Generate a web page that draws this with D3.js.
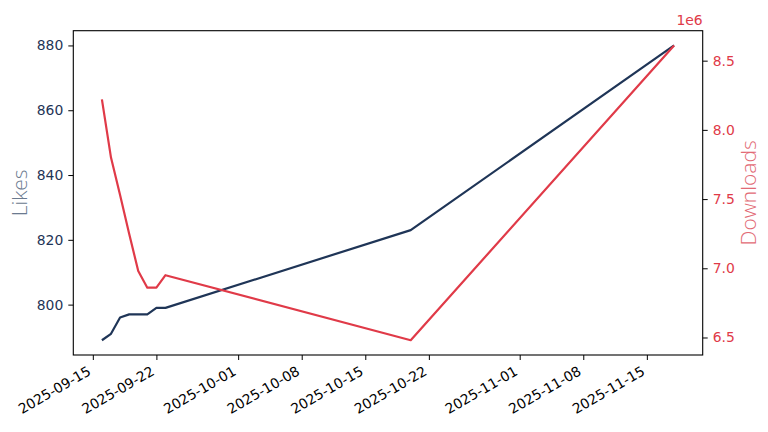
<!DOCTYPE html>
<html>
<head>
<meta charset="utf-8">
<script src="https://cdn.jsdelivr.net/npm/d3@7"></script>
<style>
  body { margin: 0; background: #fff; }
  svg { font-family: "DejaVu Sans", sans-serif; }
  .dual-line { fill: none; stroke-width: 2.2; stroke-linejoin: round; }
</style>
</head>
<body>
<div id="chart"></div>
<script>
// values
var dates = ["2025-09-16", "2025-09-17", "2025-09-18", "2025-09-19", "2025-09-20",
  "2025-09-21", "2025-09-22", "2025-09-23", "2025-10-20", "2025-11-18"];
var likes = [789, 791, 796, 797, 797, 797, 799, 799, 823, 880];
var downloads = [8.22e6, 7.80e6, 7.53e6, 7.25e6, 6.98e6, 6.86e6, 6.86e6, 6.95e6, 6.48e6, 8.61e6];
var dateTicks = ["2025-09-15", "2025-09-22", "2025-10-01", "2025-10-08", "2025-10-15",
  "2025-10-22", "2025-11-01", "2025-11-08", "2025-11-15"];
var likeTicks = [800, 820, 840, 860, 880];
var downloadTicks = [6.5e6, 7.0e6, 7.5e6, 8.0e6, 8.5e6];

var navy = "#1f3557";
var red = "#e03a48";

var width = 768, height = 432;
var margin = {top: 30.7, right: 65.3, bottom: 77, left: 73.3};
var plotW = width - margin.left - margin.right;
var plotH = height - margin.top - margin.bottom;

var parse = d3.timeParse("%Y-%m-%d");
var fmt = d3.timeFormat("%Y-%m-%d");
var rows = dates.map(function(d, i) {
  return {date: parse(d), likes: likes[i], downloads: downloads[i]};
});

// matplotlib style 5% padding around the data
var pad = function(ext) {
  var span = ext[1] - ext[0];
  return [ext[0] - span * 0.05, ext[1] + span * 0.05];
};
var tExt = d3.extent(rows, d => +d.date);
var x = d3.scaleTime().domain(pad(tExt).map(v => new Date(v))).range([0, plotW]);
var yL = d3.scaleLinear().domain(pad(d3.extent(likes))).range([plotH, 0]);
var yR = d3.scaleLinear().domain(pad(d3.extent(downloads))).range([plotH, 0]);

var svg = d3.select("#chart").append("svg")
  .attr("width", width)
  .attr("height", height);
var chart = svg.append("g")
  .attr("transform", "translate(" + margin.left + "," + margin.top + ")");

var line = function(y, key) {
  return d3.line().x(d => x(d.date)).y(d => y(d[key]));
};

chart.append("path").datum(rows)
  .attr("class", "dual-line")
  .attr("stroke", navy)
  .attr("d", line(yL, "likes"));
chart.append("path").datum(rows)
  .attr("class", "dual-line")
  .attr("stroke", red)
  .attr("d", line(yR, "downloads"));

// frame
chart.append("rect")
  .attr("width", plotW).attr("height", plotH)
  .attr("fill", "none").attr("stroke", "#000").attr("stroke-width", 1.1);

var styleAxis = function(g, color) {
  g.attr("font-family", "DejaVu Sans").attr("font-size", 13.9);
  g.select(".domain").remove();
  g.selectAll(".tick line").attr("stroke", "#000").attr("stroke-width", 1);
  g.selectAll(".tick text").attr("fill", color);
};

// bottom axis
var xAxis = chart.append("g")
  .attr("transform", "translate(0," + plotH + ")")
  .call(d3.axisBottom(x).tickValues(dateTicks.map(parse)).tickFormat(fmt)
    .tickSizeInner(5).tickSizeOuter(0).tickPadding(5));
styleAxis(xAxis, "#000");
xAxis.selectAll(".tick text")
  .attr("text-anchor", "end")
  .attr("x", 0).attr("y", 0).attr("dy", 0)
  .attr("transform", "translate(-1.5,19) rotate(-30)");

// left axis
var leftAxis = chart.append("g")
  .call(d3.axisLeft(yL).tickValues(likeTicks).tickSizeInner(5).tickSizeOuter(0).tickPadding(5));
styleAxis(leftAxis, navy);

// right axis
var rightAxis = chart.append("g")
  .attr("transform", "translate(" + plotW + ",0)")
  .call(d3.axisRight(yR).tickValues(downloadTicks)
    .tickFormat(v => d3.format(".1f")(v / 1e6))
    .tickSizeInner(5).tickSizeOuter(0).tickPadding(5));
styleAxis(rightAxis, red);

chart.append("text")
  .attr("x", plotW).attr("y", -6)
  .attr("text-anchor", "end")
  .attr("fill", red).attr("font-size", 13.9)
  .text("1e6");

svg.append("text")
  .attr("transform", "translate(27," + (margin.top + plotH / 2) + ") rotate(-90)")
  .attr("text-anchor", "middle")
  .attr("fill", "#6b7a8f").attr("font-size", 21).attr("font-weight", 300)
  .style("font-family", "'Open Sans', 'DejaVu Sans', sans-serif")
  .text("Likes");

svg.append("text")
  .attr("transform", "translate(756," + (margin.top + plotH / 2) + ") rotate(-90)")
  .attr("text-anchor", "middle")
  .attr("fill", "#e26a75").attr("font-size", 21).attr("font-weight", 300)
  .style("font-family", "'Open Sans', 'DejaVu Sans', sans-serif")
  .text("Downloads");
</script>
</body>
</html>
